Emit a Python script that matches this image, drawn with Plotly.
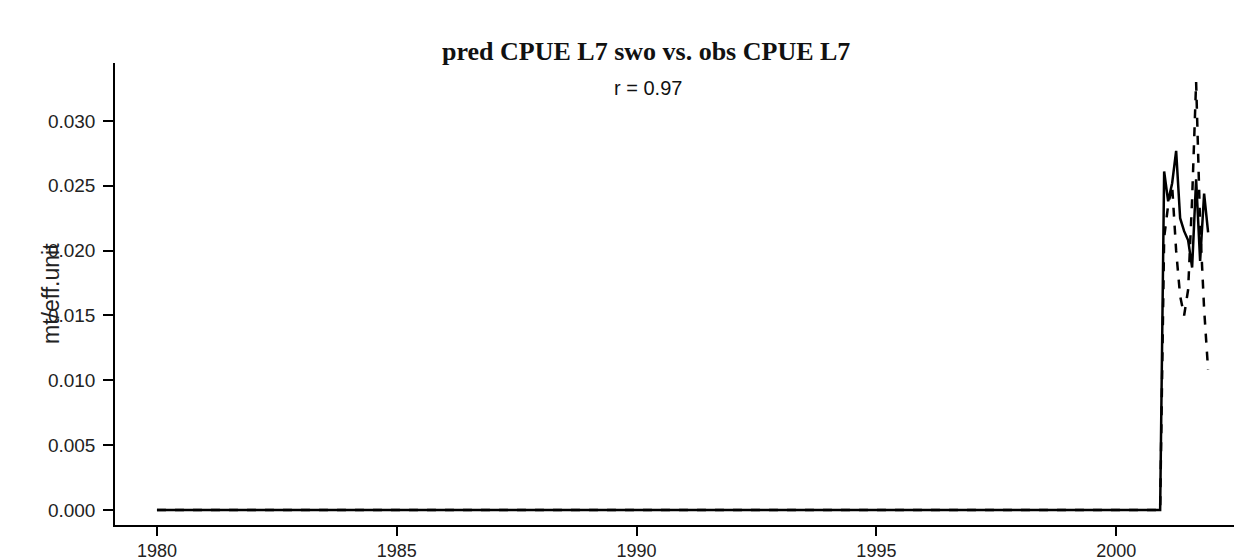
import numpy as np
import plotly.graph_objects as go

# monthly time index, 1980.0 .. 2001.917
start_year = 1980
n_months = 264
years = start_year + np.arange(n_months) / 12.0

# both series sit at zero until the end of 2000
zero_months = 252
pred_2001 = [0.0261, 0.0238, 0.0252, 0.0277, 0.0225, 0.0215,
             0.0208, 0.0187, 0.0255, 0.0192, 0.0244, 0.0214]
obs_2001 = [0.0210, 0.0235, 0.0250, 0.0200, 0.0165, 0.0150,
            0.0170, 0.0240, 0.0330, 0.0220, 0.0155, 0.0108]

pred_cpue = [0.0] * zero_months + pred_2001
obs_cpue = [0.0] * zero_months + obs_2001

x_ticks = [1980, 1985, 1990, 1995, 2000]
y_ticks = [0.000, 0.005, 0.010, 0.015, 0.020, 0.025, 0.030]

fig = go.Figure()
fig.add_trace(go.Scatter(x=years, y=pred_cpue, mode="lines", name="pred",
                         line=dict(color="black", width=2.5)))
fig.add_trace(go.Scatter(x=years, y=obs_cpue, mode="lines", name="obs",
                         line=dict(color="black", width=2.5, dash="dash")))

fig.update_layout(
    width=1242, height=559,
    margin=dict(l=107, r=0, t=55, b=42),
    paper_bgcolor="white", plot_bgcolor="white",
    showlegend=False,
    font=dict(family="Liberation Sans, Arial", color="#222222"),
    annotations=[
        dict(text="<b>pred CPUE L7 swo vs. obs CPUE L7</b>", xref="paper", yref="paper",
             x=(638 - 107) / 1135, y=1 + (55 - 27) / 462, showarrow=False,
             font=dict(family="Liberation Serif, Times New Roman", size=26, color="#111111")),
        dict(text="r = 0.97", xref="paper", yref="paper",
             x=(640 - 107) / 1135, y=1 - (67 - 55) / 462, showarrow=False,
             font=dict(size=20, color="#111111")),
        dict(text="mt/eff.unit", xref="paper", yref="paper", textangle=-90,
             x=(28 - 107) / 1135, y=(517 - 286) / 462, showarrow=False,
             font=dict(size=23, color="#222222")),
    ],
)
fig.update_xaxes(range=[1979.125, 2002.79], tickvals=x_ticks, showgrid=False, zeroline=False,
                 showline=True, linecolor="black", linewidth=1.5,
                 ticks="outside", ticklen=9, tickwidth=1.5, tickcolor="black",
                 tickfont=dict(size=18))
fig.update_yaxes(range=[-0.00116, 0.03447], tickvals=y_ticks, tickformat=".3f",
                 showgrid=False, zeroline=False,
                 showline=True, linecolor="black", linewidth=1.5,
                 ticks="outside", ticklen=10, tickwidth=1.5, tickcolor="black",
                 ticklabelstandoff=4, tickfont=dict(size=19))

fig.write_html("out.html")
